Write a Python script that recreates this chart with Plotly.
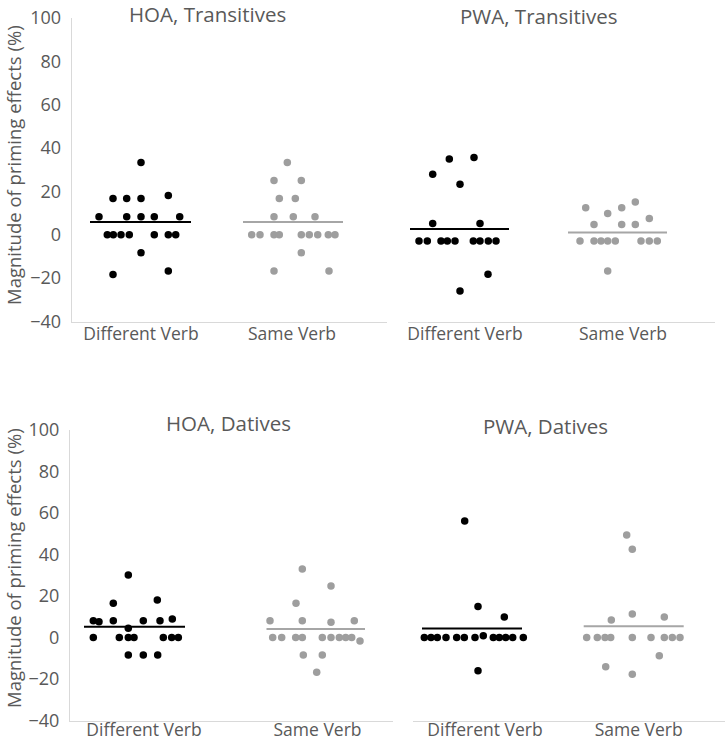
import plotly.graph_objects as go

W, H = 725, 741
FONT = "Open Sans"
TXT = "#595959"
BLACK = "#000000"
GREY = "#9e9e9e"
GREY_LINE = "#a6a6a6"
AXIS = "#d9d9d9"

categories = ["Different Verb", "Same Verb"]
y_tick_vals = [-40, -20, 0, 20, 40, 60, 80, 100]
y_title = "Magnitude of priming effects (%)"
panel_titles = ["HOA, Transitives", "PWA, Transitives", "HOA, Datives", "PWA, Datives"]

# ---- HOA, Transitives ----
hoa_tr_diff_y = [33.3, 16.7, 16.7, 16.7, 18.1, 8.3, 8.3, 8.3, 8.3, 8.3,
                 0, 0, 0, 0, 0, 0, 0, -8.3, -18.3, -16.7]
hoa_tr_diff_dx = [0, -28, -14.3, 0, 27.3, -42, -14.3, 0, 13.3, 38.7,
                  -33.7, -27.7, -20, -11.7, 13.3, 27.3, 34.7, 0, -28, 27.3]
hoa_tr_same_y = [33.3, 25, 25, 16.7, 16.7, 8.3, 8.3, 8.3,
                 0, 0, 0, 0, 0, 0, 0, 0, 0, -8.3, -16.7, -16.7]
hoa_tr_same_dx = [-4.7, -18, 9.3, -12.7, 3.3, -18, 1.3, 23,
                  -40.3, -32, -18, -12.7, 9.3, 17.3, 25.7, 36.3, 43, 9.3, -18, 37]
hoa_tr_means = [5.9, 5.9]

# ---- PWA, Transitives ----
pwa_tr_diff_y = [35.0, 35.6, 27.9, 23.3, 5.2, 5.2,
                 -2.9, -2.9, -2.9, -2.9, -2.9, -2.9, -2.9, -2.9, -2.9, -18.2, -25.9]
pwa_tr_diff_dx = [-15.7, 9, -32.3, -5, -32.3, 15,
                  -46, -37.7, -24, -17.7, -10, 8.3, 15, 23.3, 31, 23, -5]
pwa_tr_same_y = [15.1, 12.5, 12.5, 9.8, 7.5, 4.8, 4.8, 4.8,
                 -2.9, -2.9, -2.9, -2.9, -2.9, -2.9, -2.9, -2.9, -16.7]
pwa_tr_same_dx = [12.3, -37.3, -1.3, -15.3, 26.3, -29, -1.3, 12.3,
                  -43, -29, -22, -15.3, -7.7, 18, 26.3, 34.3, -15.3]
pwa_tr_means = [2.7, 1.0]

# ---- HOA, Datives ----
hoa_da_diff_y = [30.1, 16.5, 18.1, 8.1, 7.6, 8.1, 8.1, 8.1, 8.9, 4.4,
                 0, 0, 0, 0, 0, 0, 0, -8.4, -8.4, -8.4]
hoa_da_diff_dx = [-15.7, -30.7, 13.3, -50.7, -45, -30.7, -0.7, 16, 28.3, -15.7,
                  -50.7, -24.7, -15.7, -10, 19.3, 27.7, 34.3, -15.7, -0.7, 13.7]
hoa_da_same_y = [33.0, 24.8, 16.5, 8.1, 8.1, 7.3, 8.1,
                 0, 0, 0, 0, 0, 0, 0, 0, 0, -1.7, -8.4, -8.4, -16.8]
hoa_da_same_dx = [-15.2, 13.5, -21.5, -47.5, -15.2, 13.5, 36.8,
                  -44.8, -35.8, -21.8, -15.2, 4.8, 13.5, 21.8, 28.2, 34.2, 42.5, -14.2, 4.8, -0.8]
hoa_da_means = [5.2, 4.1]

# ---- PWA, Datives ----
pwa_da_diff_y = [56.1, 14.9, 9.9,
                 0, 0, 0, 0, 0, 0, 0, 0, 0, 0, 0, 0, 0.9, -16.0]
pwa_da_diff_dx = [-20.3, -7, 19.3,
                  -60.7, -54, -47.7, -39, -28.3, -20.7, -10, 8.3, 14.3, 20.7, 27.7, 38.3, -1.7, -7]
pwa_da_same_y = [49.4, 42.5, 11.3, 8.4, 9.9,
                 0, 0, 0, 0, 0, 0, 0, 0, 0, -8.8, -14.1, -17.7]
pwa_da_same_dx = [-12, -6.4, -6.4, -27.4, 25.6,
                  -52, -41.4, -33.7, -28, -6.4, 12.3, 25.6, 33.6, 41.3, 20.6, -33, -6.4]
pwa_da_means = [4.3, 5.4]

# panel geometry (pixels) -- layout only
panels = [
    dict(name=panel_titles[0], diff=(hoa_tr_diff_dx, hoa_tr_diff_y), same=(hoa_tr_same_dx, hoa_tr_same_y),
         means=hoa_tr_means, x0=71.7, x1=386.7, ytop=18, ybot=321.5, c1=141, unit=151,
         mlo=[-51, -49], mhi=[50, 51], showy=True, tx=207.5, ty=14, xstand=-4),
    dict(name=panel_titles[1], diff=(pwa_tr_diff_dx, pwa_tr_diff_y), same=(pwa_tr_same_dx, pwa_tr_same_y),
         means=pwa_tr_means, x0=408, x1=715, ytop=18, ybot=321.5, c1=465, unit=158,
         mlo=[-55, -55], mhi=[44, 44], showy=False, tx=538.3, ty=16, xstand=-4),
    dict(name=panel_titles[2], diff=(hoa_da_diff_dx, hoa_da_diff_y), same=(hoa_da_same_dx, hoa_da_same_y),
         means=hoa_da_means, x0=70, x1=393, ytop=430, ybot=720.5, c1=144, unit=173.5,
         mlo=[-60, -51], mhi=[41, 47.5], showy=True, tx=228.3, ty=422.5, xstand=-7),
    dict(name=panel_titles[3], diff=(pwa_da_diff_dx, pwa_da_diff_y), same=(pwa_da_same_dx, pwa_da_same_y),
         means=pwa_da_means, x0=413, x1=725, ytop=430, ybot=720.5, c1=485, unit=153.7,
         mlo=[-63, -55], mhi=[37, 45], showy=False, tx=545.8, ty=425.5, xstand=-7),
]

fig = go.Figure()
annotations = []
for i, p in enumerate(panels):
    k = "" if i == 0 else str(i + 1)
    xa, ya = "x" + k, "y" + k
    u = p["unit"]
    for j, (dx, ys) in enumerate([p["diff"], p["same"]]):
        col = BLACK if j == 0 else GREY
        fig.add_trace(go.Scatter(
            x=[j + 1 + d / u for d in dx], y=ys, mode="markers",
            marker=dict(color=col, size=7.5, line=dict(width=0)),
            xaxis=xa, yaxis=ya, showlegend=False, hoverinfo="y", cliponaxis=False))
        fig.add_trace(go.Scatter(
            x=[j + 1 + p["mlo"][j] / u, j + 1 + p["mhi"][j] / u],
            y=[p["means"][j], p["means"][j]], mode="lines",
            line=dict(color=BLACK if j == 0 else GREY_LINE, width=2),
            xaxis=xa, yaxis=ya, showlegend=False, hoverinfo="skip"))
    xr = [1 - (p["c1"] - p["x0"]) / u, 1 + (p["x1"] - p["c1"]) / u]
    fig.layout["xaxis" + k] = dict(
        domain=[p["x0"] / W, p["x1"] / W], range=xr, anchor=ya, automargin=False,
        tickmode="array", tickvals=[1, 2], ticktext=categories,
        showline=True, linecolor=AXIS, linewidth=1, showgrid=False, zeroline=False,
        ticks="", ticklabelstandoff=p["xstand"],
        tickfont=dict(family=FONT, size=17.5, color=TXT))
    fig.layout["yaxis" + k] = dict(
        domain=[1 - p["ybot"] / H, 1 - p["ytop"] / H], range=[-40, 100], anchor=xa,
        automargin=False,
        tickmode="array", tickvals=y_tick_vals,
        ticktext=[str(v).replace("-", "\u2212") for v in y_tick_vals],
        showticklabels=p["showy"], showline=p["showy"], linecolor=AXIS, linewidth=1,
        showgrid=False, zeroline=False, ticks="", ticklabelstandoff=6,
        tickfont=dict(family=FONT, size=18, color=TXT))
    annotations.append(dict(
        text=p["name"], x=p["tx"] / W, y=1 - p["ty"] / H, xref="paper", yref="paper",
        xanchor="center", yanchor="middle", showarrow=False,
        font=dict(family=FONT, size=20.5, color=TXT)))

for yc in (165, 568):
    annotations.append(dict(
        text=y_title, x=13 / W, y=1 - yc / H, xref="paper", yref="paper",
        xanchor="center", yanchor="middle", textangle=-90, showarrow=False,
        font=dict(family=FONT, size=18.5, color=TXT)))

fig.update_layout(
    width=W, height=H, margin=dict(l=0, r=0, t=0, b=0, pad=0, autoexpand=False),
    paper_bgcolor="white", plot_bgcolor="white",
    annotations=annotations)

fig.write_html("out.html", config={"displayModeBar": False},
               post_script="document.body.style.margin='0';document.body.style.overflow='hidden';")
